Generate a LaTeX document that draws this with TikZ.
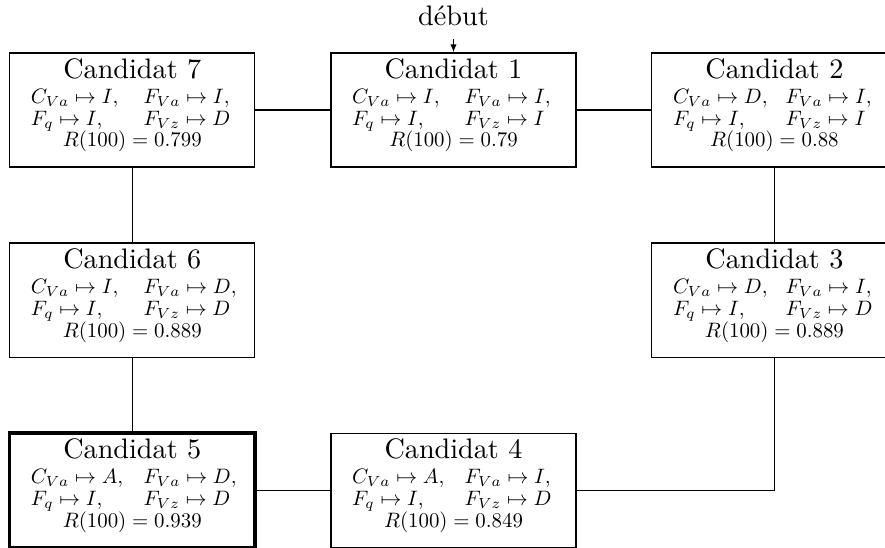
\documentclass[tikz,border=0pt]{standalone}
\usepackage{graphicx}
\usetikzlibrary{arrows.meta}

% one centred line of a box, with no height of its own
\newcommand\boxline[1]{\hbox to\hsize{\hss\smash{#1}\hss}}
% formulas are set at 0.74 of the text size
\newcommand\redmath[1]{\scalebox{0.74}{#1}}
% the two aligned assignment columns (widths before the reduction)
\newcommand\twocols[2]{\redmath{\makebox[54pt][l]{$#1$}\makebox[43.2pt][l]{$#2$}}}

% #1 number, #2..#5 assignments, #6 reliability
\newcommand\candtext[6]{%
  \vbox{\offinterlineskip\hsize=86.9pt
    \vskip9.08pt
    \boxline{Candidat #1}
    \vskip8.87pt
    \boxline{\twocols{C_{Va}\mapsto #2,}{F_{Va}\mapsto #3,}}
    \vskip7.7pt
    \boxline{\twocols{F_q\mapsto #4,}{F_{Vz}\mapsto #5}}
    \vskip7.7pt
    \boxline{\redmath{$R(100)=#6$}}
    \vskip7.1pt}}

\tikzset{
  cand/.style={draw, rectangle, inner sep=0pt},
  best/.style={cand, line width=1.2pt},
  link/.style={draw},
  startarrow/.style={-{Latex[length=2.8pt,width=2.2pt]}, shorten <=1.4pt},
}

\begin{document}
\begin{tikzpicture}[x=1pt,y=1pt]
  \useasboundingbox (0,0) rectangle (313.8,-194.3);

  % top row
  \node[cand] (c7) at (46.9,-39.0)  {\candtext{7}{I}{I}{I}{D}{0.799}};
  \node[cand] (c1) at (160.8,-39.0) {\candtext{1}{I}{I}{I}{I}{0.79}};
  \node[cand] (c2) at (274.6,-39.0) {\candtext{2}{D}{I}{I}{I}{0.88}};
  % middle row
  \node[cand] (c6) at (46.9,-106.4)  {\candtext{6}{I}{D}{I}{D}{0.889}};
  \node[cand] (c3) at (274.6,-106.4) {\candtext{3}{D}{I}{I}{D}{0.889}};
  % bottom row
  \node[best] (c5) at (46.9,-173.8)  {\candtext{5}{A}{D}{I}{D}{0.939}};
  \node[cand] (c4) at (160.8,-173.8) {\candtext{4}{A}{I}{I}{D}{0.849}};

  % entry point
  \node (debut) at (160.8,-8.87) [anchor=base] {début};
  \draw[startarrow] (debut) -- (c1);

  % neighbourhood path
  \draw[link] (c7) -- (c1);
  \draw[link] (c1) -- (c2);
  \draw[link] (c2) -- (c3);
  \draw[link] (c3) |- (c4);
  \draw[link] (c4) -- (c5);
  \draw[link] (c5) -- (c6);
  \draw[link] (c6) -- (c7);
\end{tikzpicture}
\end{document}
